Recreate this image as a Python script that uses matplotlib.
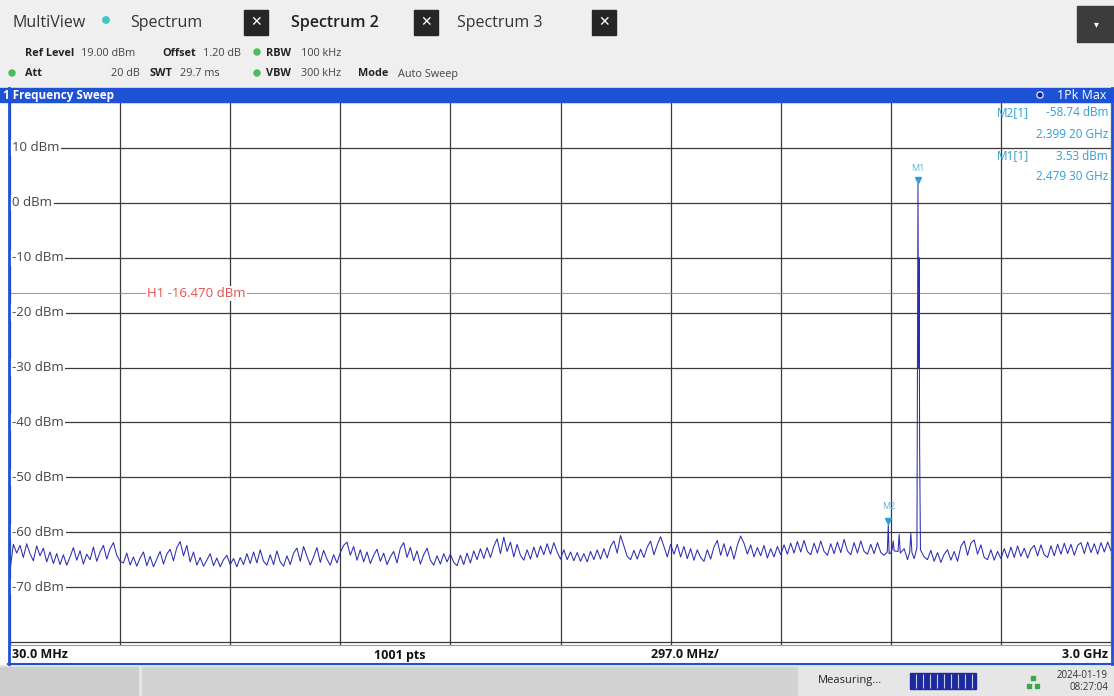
import numpy as np
import matplotlib
matplotlib.use('Agg')
import matplotlib.pyplot as plt
from matplotlib.patches import Rectangle, Circle
from matplotlib import transforms

plt.rcParams['font.family'] = ['Open Sans', 'DejaVu Sans']

W, H = 1114, 696

# sweep settings
start_mhz = 30.0
stop_mhz = 3000.0
n_div = 10
n_pts = 1001
y_grid = [10, 0, -10, -20, -30, -40, -50, -60, -70, -80]
y_labels = ['10 dBm', '0 dBm', '-10 dBm', '-20 dBm', '-30 dBm',
            '-40 dBm', '-50 dBm', '-60 dBm', '-70 dBm']
h1_dbm = -16.470

# trace (noise floor, left to right)
noise_dbm = [
    -67.0, -62.2, -63.8, -62.4, -64.6, -62.1, -63.9, -65.2, -62.5, -64.3, -62.9, -65.4,
    -63.6, -65.7, -63.9, -65.9, -64.1, -66.0, -64.5, -62.8, -65.1, -63.4, -65.8, -64.0,
    -65.0, -62.7, -65.3, -63.6, -62.4, -64.9, -63.0, -61.9, -64.2, -65.3,
    -65.6, -63.8, -66.0, -64.5, -66.2, -64.7, -63.6, -66.1, -64.4, -66.3, -64.9, -63.5,
    -65.8, -64.0, -63.1, -65.2, -62.8, -61.7, -64.3, -62.4, -65.4, -63.6, -66.0, -64.6,
    -66.2, -65.1, -63.9, -66.1, -64.7, -66.3, -65.0, -64.2, -65.9,
    -64.8, -66.3, -64.6, -65.9, -63.9, -65.7, -63.6, -65.6, -63.2, -65.3, -66.0, -64.1,
    -65.9, -63.4, -65.4, -66.2, -64.3, -65.9, -63.8, -62.9, -65.3, -62.6, -64.4, -66.0,
    -64.5, -62.8, -65.5, -63.3, -64.9, -66.0, -64.1, -65.6, -63.7,
    -62.4, -61.8, -64.2, -62.6, -65.1, -63.2, -65.4, -63.6, -65.7, -64.2, -63.1, -65.3,
    -63.8, -65.9, -64.5, -63.5, -65.6, -62.9, -61.9, -64.6, -62.8, -65.2, -63.4, -65.8,
    -64.1, -62.9, -65.1, -66.0, -64.3, -65.8, -63.9, -65.4, -64.0,
    -65.5, -66.1, -64.2, -65.9, -63.8, -65.6, -63.4, -65.0, -63.0, -64.8, -62.8, -64.6,
    -62.6, -61.2, -63.9, -60.9, -63.5, -61.8, -64.5, -62.2, -64.2, -65.1, -63.2, -64.9,
    -62.7, -64.6, -62.5, -64.1, -62.1, -64.0, -61.9, -63.6, -64.9,
    -63.2, -65.0, -63.6, -65.2, -63.7, -65.3, -63.9, -65.4, -63.5, -65.0, -63.2, -64.9,
    -63.0, -64.7, -62.6, -61.6, -63.8, -60.6, -62.5, -64.4, -65.0, -63.3, -64.9, -63.1,
    -64.6, -62.7, -61.6, -64.1, -62.3, -60.8, -62.6, -64.5, -62.2,
    -64.0, -62.2, -64.5, -62.6, -64.8, -63.0, -65.1, -63.2, -64.6, -65.3, -63.2, -64.9,
    -62.7, -61.5, -64.2, -62.1, -64.4, -62.6, -64.9, -62.4, -60.7, -62.0, -64.0, -62.3,
    -64.5, -62.8, -64.3, -62.4, -64.7, -63.0, -64.5, -62.6, -64.1,
    -62.3, -64.0, -62.0, -63.8, -61.7, -63.6, -61.5, -63.5, -64.1, -62.0, -63.8, -61.6,
    -63.5, -64.2, -62.1, -63.9, -61.8, -63.7, -61.3, -63.4, -64.1, -61.9, -63.8, -61.6,
    -63.5, -64.0, -62.2, -63.9, -61.9, -63.7, -64.2, -62.5,
    -63.8, -62.2, -64.3, -64.9, -63.0, -65.0, -63.4, -64.8, -62.9, -62.4, -64.5,
    -65.0, -63.3, -65.3, -63.7, -65.5, -64.0, -63.2, -65.1, -63.5, -65.3, -62.6, -61.6,
    -64.2, -62.0, -61.4, -64.0, -62.3, -64.6, -65.0, -63.2, -65.1, -63.5, -64.8,
    -63.0, -64.7, -62.7, -64.6, -62.5, -64.4, -62.9, -64.7, -63.1, -62.4, -64.3, -62.3,
    -64.1, -64.6, -62.5, -64.3, -62.2, -64.0, -62.0, -63.9, -62.2, -64.2, -62.4, -61.9,
    -63.9, -61.8, -63.7, -62.1, -64.0, -61.9, -63.6, -61.8, -63.4,
]

# spurs and carrier around 2.4 GHz
spur_mhz = [2396.5, 2399.2, 2401.5, 2410.0, 2412.5, 2415.0, 2425.5, 2428.5, 2431.5,
            2457.0, 2460.0, 2463.0, 2476.5, 2479.3, 2480.8, 2482.3, 2483.8, 2486.0]
spur_dbm = [-63.6, -58.74, -63.9, -63.0, -61.6, -63.4, -63.5, -60.4, -63.8,
            -63.6, -60.2, -63.7, -62.8, 3.53, -30.0, -10.0, -45.0, -63.2]

m1_mhz, m1_dbm = 2479.3, 3.53
m2_mhz, m2_dbm = 2399.2, -58.74

BLUE = '#1d52d4'
MK = '#2b9fd8'
TRACE = '#2c2cb4'


def fmt_ghz(mhz):
    s = '{:.5f}'.format(mhz / 1000.0)
    return s[:5] + ' ' + s[5:] + ' GHz'


base_f = np.linspace(start_mhz, stop_mhz, len(noise_dbm))
base_l = np.array(noise_dbm)
sp_f = np.array(spur_mhz)
sp_l = np.array(spur_dbm)
keep = np.min(np.abs(base_f[:, None] - sp_f[None, :]), axis=1) > 1.6
freq = np.concatenate([base_f[keep], sp_f])
level = np.concatenate([base_l[keep], sp_l])
order = np.argsort(freq)
freq, level = freq[order], level[order]

fig = plt.figure(figsize=(W / 100, H / 100), dpi=100)
fig.patch.set_facecolor('white')

# background layer in pixel coords
bg = fig.add_axes([0, 0, 1, 1], zorder=0)
bg.set_xlim(0, W)
bg.set_ylim(H, 0)
bg.axis('off')
bg.add_patch(Rectangle((0, 0), W, 88, color='#efefef'))
bg.add_patch(Rectangle((0, 665), W, 31, color='#e6e6e6'))
bg.add_patch(Rectangle((0, 667), 138, 29, color='#cdcdcd'))
bg.add_patch(Rectangle((142, 667), 655, 29, color='#d3d3d3'))

# spectrum
y_top = 10 + (148 - 102) / 5.49
y_bot = -80 - (645 - 642) / 5.49
ax = fig.add_axes([10 / W, 1 - 645 / H, 1101 / W, 543 / H], zorder=1)
ax.set_facecolor('white')
ax.set_xlim(start_mhz, stop_mhz)
ax.set_ylim(y_bot, y_top)
ax.set_xticks(np.linspace(start_mhz, stop_mhz, n_div + 1))
ax.set_yticks(y_grid)
ax.tick_params(length=0, labelleft=False, labelbottom=False)
ax.grid(True, color='#3a3a3a', lw=0.9)
ax.set_axisbelow(True)
for side in ['left', 'right']:
    ax.spines[side].set_visible(False)
ax.spines['top'].set_color('#444444')
ax.spines['bottom'].set_color('#9a9a9a')

ax.axhline(h1_dbm, color='#f05a5a', lw=0.8, alpha=0.8, zorder=1.5)
ax.plot(freq, level, color=TRACE, lw=0.75, zorder=2)

px_y = transforms.blended_transform_factory(bg.transData, ax.transData)
for v, lab in zip(y_grid, y_labels):
    ax.text(12, v, lab, transform=px_y, ha='left', va='center', fontsize=9.5,
            color='#444444', zorder=4,
            bbox=dict(facecolor='white', edgecolor='none', pad=1.2))
ax.text(147, h1_dbm, 'H1 {:.3f} dBm'.format(h1_dbm), transform=px_y, ha='left',
        va='center', fontsize=9.5, color='#e05050', zorder=4,
        bbox=dict(facecolor='white', edgecolor='none', pad=0.8))

tri = transforms.offset_copy(ax.transData, fig=fig, x=0, y=4, units='dots')
for name, f, l, lift in [('M1', m1_mhz, m1_dbm, 15), ('M2', m2_mhz, m2_dbm, 19)]:
    ax.plot(f, l, marker='v', ms=4.5, color=MK, transform=tri, zorder=5, clip_on=False)
    ax.annotate(name, xy=(f, l), xytext=(0, lift), textcoords='offset pixels',
                ha='center', va='center', fontsize=6.5, color='#5ab0dc', zorder=5)

# overlay layer in pixel coords
ov = fig.add_axes([0, 0, 1, 1], zorder=5)
ov.set_xlim(0, W)
ov.set_ylim(H, 0)
ov.axis('off')
ov.patch.set_alpha(0)

# tabs
ov.text(13, 23, 'MultiView', fontsize=11.5, color='#333333', va='center')
ov.add_patch(Circle((106, 20), 3.2, color='#3cc6c6'))
ov.text(130, 23, 'Spectrum', fontsize=11.5, color='#333333', va='center')
ov.text(291, 23, 'Spectrum 2', fontsize=11.5, color='#222222', va='center', fontweight='semibold')
ov.text(457, 23, 'Spectrum 3', fontsize=11.5, color='#333333', va='center')
for bx in [244, 414, 592]:
    ov.add_patch(Rectangle((bx, 10), 24, 25, color='#262626'))
    ov.text(bx + 12, 22.5, '\u2715', fontsize=10, color='white', ha='center',
            va='center', fontweight='bold', family='DejaVu Sans')
ov.add_patch(Rectangle((1077, 6), 37, 36, color='#3c3c3c'))
ov.text(1096, 24, '\u25be', fontsize=7, color='white', ha='center', va='center',
        family='DejaVu Sans')

# setting lines
for x, y, s, bold in [(25, 53, 'Ref Level', True), (81, 53, '19.00 dBm', False),
                      (162, 53, 'Offset', True), (203, 53, '1.20 dB', False),
                      (266, 53, 'RBW', True), (301, 53, '100 kHz', False),
                      (25, 74, 'Att', True), (111, 74, '20 dB', False),
                      (150, 74, 'SWT', True), (180, 74, '29.7 ms', False),
                      (266, 74, 'VBW', True), (301, 74, '300 kHz', False),
                      (358, 74, 'Mode', True), (398, 74, 'Auto Sweep', False)]:
    ov.text(x, y, s, fontsize=7.8, fontweight='bold' if bold else 'normal',
            color='#222222' if bold else '#444444', va='center')
for x, y in [(257, 52), (12, 73), (257, 73)]:
    ov.add_patch(Circle((x, y), 3, color='#4cbb5e'))

# blue title bar and frame
ov.add_patch(Rectangle((0, 88), W, 14, color=BLUE))
ov.text(3, 95, '1 Frequency Sweep', fontsize=8.5, fontweight='bold', color='white', va='center')
ov.add_patch(Circle((1040, 95), 3.2, color='#0a1fa0', ec='white', lw=0.8))
ov.text(1106, 95.5, '1Pk Max', fontsize=9, color='white', ha='right', va='center')
ov.plot([8.5, 8.5], [88, 664], color=BLUE, lw=2)
ov.plot([1112, 1112], [88, 664], color=BLUE, lw=2)
ov.plot([8, 1113], [664, 664], color=BLUE, lw=1.5)

# marker table
ov.text(997, 113, 'M2[1]', fontsize=8.5, color=MK, va='center')
ov.text(1108, 113, '{:.2f} dBm'.format(m2_dbm), fontsize=8.5, color=MK, ha='right', va='center')
ov.text(1108, 134, fmt_ghz(m2_mhz), fontsize=8.5, color=MK, ha='right', va='center')
ov.text(997, 156, 'M1[1]', fontsize=8.5, color=MK, va='center')
ov.text(1108, 156, '{:.2f} dBm'.format(m1_dbm), fontsize=8.5, color=MK, ha='right', va='center')
ov.text(1108, 177, fmt_ghz(m1_mhz), fontsize=8.5, color=MK, ha='right', va='center')

# frequency footer
span_div = (stop_mhz - start_mhz) / n_div
ov.text(12, 655, '{:.1f} MHz'.format(start_mhz), fontsize=9, fontweight='bold', color='#111111', va='center')
ov.text(374, 655, '{} pts'.format(n_pts), fontsize=9, fontweight='bold', color='#111111', va='center')
ov.text(651, 655, '{:.1f} MHz/'.format(span_div), fontsize=9, fontweight='bold', color='#111111', va='center')
ov.text(1108, 655, '{:.1f} GHz'.format(stop_mhz / 1000), fontsize=9, fontweight='bold',
        color='#111111', ha='right', va='center')

# status bar
ov.text(818, 681, 'Measuring...', fontsize=8, color='#222222', va='center')
ov.add_patch(Rectangle((910, 673), 66, 16, color='#1c2a9c'))
ov.vlines(np.arange(916, 976, 7), 674, 688, color='#c8cce8', lw=0.8)
ov.plot([1033, 1029, 1037], [678, 686, 686], 's', ms=2.6, color='#39a84a')
ov.text(1108, 675, '2024-01-19', fontsize=7, color='#333333', ha='right', va='center')
ov.text(1108, 688, '08:27:04', fontsize=7, color='#333333', ha='right', va='center')

fig.savefig('out.png', dpi=100, facecolor=fig.get_facecolor())
